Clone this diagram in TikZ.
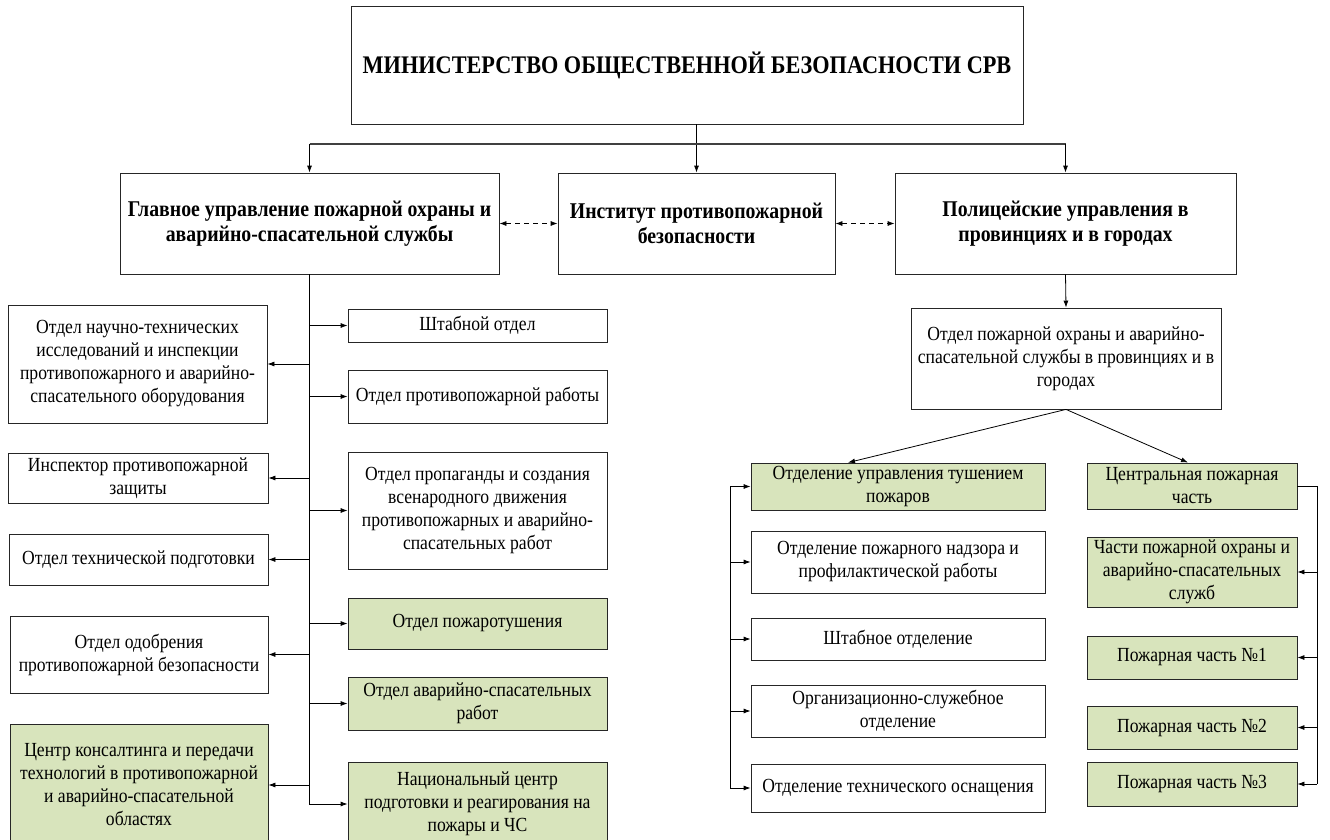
\documentclass[tikz,border=0pt]{standalone}
\usepackage{fontspec}
\setmainfont{Liberation Serif}[FakeStretch=0.88]
\usetikzlibrary{arrows.meta}
\definecolor{pale}{RGB}{216,228,188}
\tikzset{
  box/.style={draw=black!85, line width=0.8pt, inner sep=0pt, align=center, font=\fontsize{20}{23}\selectfont},
  hbox/.style={box, font=\bfseries\fontsize{22.5}{25.5}\selectfont},
  tbox/.style={box, font=\bfseries\fontsize{25.3}{28}\selectfont},
  gbox/.style={box, fill=pale},
  arr/.style={line width=0.8pt, -{Latex[length=7pt,width=5pt]}},
  darr/.style={line width=0.8pt, dash pattern=on 5pt off 4pt, {Latex[length=7pt,width=5pt]}-{Latex[length=7pt,width=5pt]}},
  ln/.style={line width=0.8pt},
}
\newcommand\mkbox[7]{%
  \pgfmathsetmacro\cxx{(#3+#5)/2}%
  \pgfmathsetmacro\cyy{(#4+#6)/2}%
  \pgfmathsetmacro\ww{#5-#3}%
  \pgfmathsetmacro\hh{#6-#4}%
  \node[#1, minimum width=\ww pt, minimum height=\hh pt] (#2) at (\cxx,\cyy) {#7};}
\begin{document}
\begin{tikzpicture}[x=1pt,y=-1pt]
\useasboundingbox (0,0) rectangle (1330,840);
% top row
\mkbox{tbox}{top}{351}{6}{1023}{124}{МИНИСТЕРСТВО ОБЩЕСТВЕННОЙ БЕЗОПАСНОСТИ СРВ}
\mkbox{hbox}{gu}{120}{173}{499}{274}{Главное управление пожарной охраны и\\аварийно-спасательной службы}
\mkbox{hbox}{inst}{558}{173}{835}{274}{Институт противопожарной\\безопасности}
\mkbox{hbox}{pol}{895}{173}{1236}{274}{Полицейские управления в\\провинциях и в городах}
% left column
\mkbox{box}{L1}{8}{305}{267}{423}{Отдел научно-технических\\исследований и инспекции\\противопожарного и аварийно-\\спасательного оборудования}
\mkbox{box}{L2}{8}{453}{268}{503}{Инспектор противопожарной\\защиты}
\mkbox{box}{L3}{9}{534}{268}{585}{Отдел технической подготовки}
\mkbox{box}{L4}{10}{616}{268}{693}{Отдел одобрения\\противопожарной безопасности}
\mkbox{gbox}{L5}{10}{724}{268}{846}{Центр консалтинга и передачи\\технологий в противопожарной\\и аварийно-спасательной\\областях}
% right of trunk
\mkbox{box}{R1}{348}{309}{607}{342}{Штабной отдел}
\mkbox{box}{R2}{348}{370}{607}{423}{Отдел противопожарной работы}
\mkbox{box}{R3}{348}{452}{607}{569}{Отдел пропаганды и создания\\всенародного движения\\противопожарных и аварийно-\\спасательных работ}
\mkbox{gbox}{R4}{348}{598}{607}{649}{Отдел пожаротушения}
\mkbox{gbox}{R5}{348}{677}{607}{730}{Отдел аварийно-спасательных\\работ}
\mkbox{gbox}{R6}{348}{762}{607}{846}{Национальный центр\\подготовки и реагирования на\\пожары и ЧС}
% right side
\mkbox{box}{OT}{911}{308}{1221}{409}{Отдел пожарной охраны и аварийно-\\спасательной службы в провинциях и в\\городах}
\mkbox{gbox}{S1}{751}{463}{1045}{510}{Отделение управления тушением\\пожаров}
\mkbox{box}{S2}{751}{531}{1045}{593}{Отделение пожарного надзора и\\профилактической работы}
\mkbox{box}{S3}{751}{618}{1045}{660}{Штабное отделение}
\mkbox{box}{S4}{751}{685}{1045}{737}{Организационно-служебное\\отделение}
\mkbox{box}{S5}{751}{764}{1045}{812}{Отделение технического оснащения}
\mkbox{gbox}{C0}{1087}{463}{1297}{509}{Центральная пожарная\\часть}
\mkbox{gbox}{C1}{1087}{537}{1297}{607}{Части пожарной охраны и\\аварийно-спасательных\\служб}
\mkbox{gbox}{C2}{1087}{636}{1297}{679}{Пожарная часть №1}
\mkbox{gbox}{C3}{1087}{706}{1297}{749}{Пожарная часть №2}
\mkbox{gbox}{C4}{1087}{762}{1297}{806}{Пожарная часть №3}
% coordinates
\coordinate (bar) at (0,144);
\coordinate (tr) at (309,0);
\coordinate (bl) at (730,0);
\coordinate (br) at (1317,0);
% top connectors
\draw[arr] (top.south -| inst.north) -- (inst.north);
\draw[line width=1.2pt, black!75] (gu.north |- bar) -- (pol.north |- bar);
\draw[arr] (gu.north |- bar) -- (gu.north);
\draw[arr] (pol.north |- bar) -- (pol.north);
\draw[darr] (gu.east) -- (inst.west);
\draw[darr] (inst.east) -- (pol.west);
% trunk
\draw[ln] (gu.south -| tr) -- (tr |- R6.west);
\foreach \n in {L1,L2,L3,L4,L5}{\draw[arr] (tr |- \n.east) -- (\n.east);}
\foreach \n in {R1,R2,R3,R4,R5,R6}{\draw[arr] (tr |- \n.west) -- (\n.west);}
% right side
\draw[arr] (pol.south) -- (OT.north);
\draw[arr] (OT.south) -- ([xshift=-50pt]S1.north);
\draw[arr] (OT.south) -- ([xshift=-4pt]C0.north);
\draw[ln] (bl |- S1.west) -- (bl |- S5.west);
\foreach \n in {S1,S2,S3,S4,S5}{\draw[arr] (bl |- \n.west) -- (\n.west);}
\draw[ln] (C0.east) -- (br |- C0.east) -- (br |- C4.east);
\foreach \n in {C1,C2,C3,C4}{\draw[arr] (br |- \n.east) -- (\n.east);}
\end{tikzpicture}
\end{document}
